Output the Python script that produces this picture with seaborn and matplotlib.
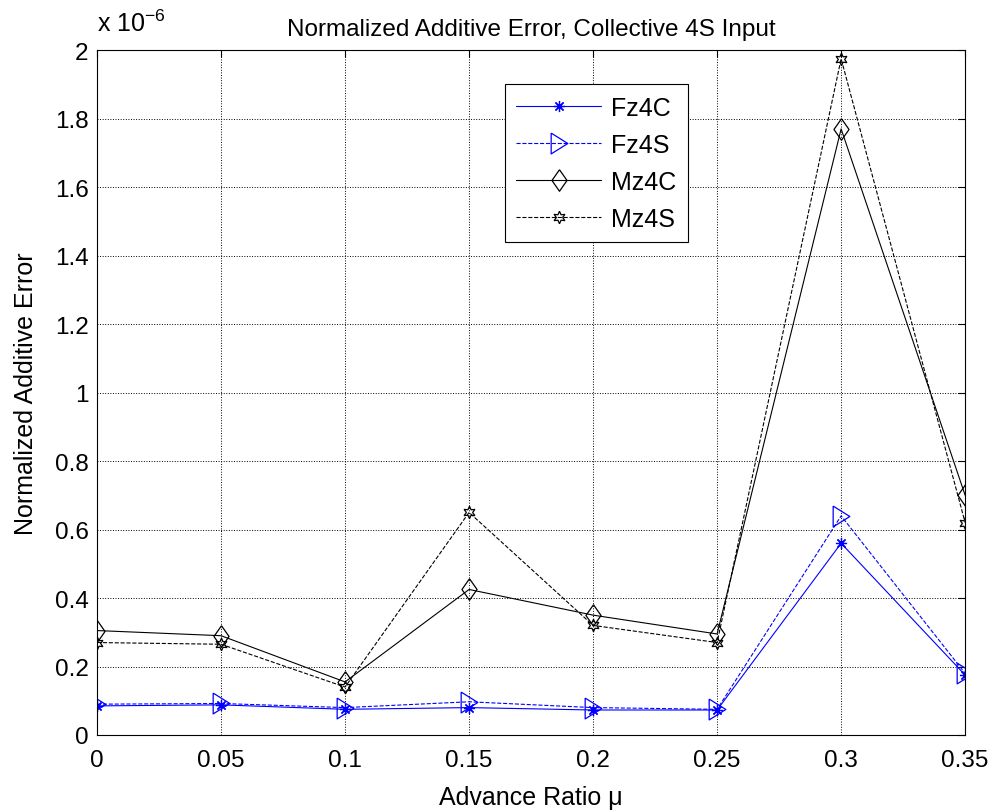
import pandas as pd
import seaborn as sns
import matplotlib.pyplot as plt
from matplotlib.ticker import FuncFormatter

# values, in units of 1e-6
mu = [0, 0.05, 0.1, 0.15, 0.2, 0.25, 0.3, 0.35]
fz4c = [0.085, 0.088, 0.075, 0.080, 0.073, 0.073, 0.56, 0.175]
fz4s = [0.090, 0.092, 0.080, 0.097, 0.080, 0.075, 0.64, 0.180]
mz4c = [0.305, 0.290, 0.155, 0.425, 0.350, 0.295, 1.77, 0.700]
mz4s = [0.270, 0.265, 0.140, 0.650, 0.320, 0.270, 1.975, 0.620]

x_ticks = [0, 0.05, 0.1, 0.15, 0.2, 0.25, 0.3, 0.35]
y_ticks = [0, 0.2, 0.4, 0.6, 0.8, 1.0, 1.2, 1.4, 1.6, 1.8, 2.0]

sns.set_theme(style="white")
plt.rcParams['font.family'] = ['Liberation Sans', 'DejaVu Sans']
plt.rcParams['font.size'] = 17.5
plt.rcParams['xtick.direction'] = 'in'
plt.rcParams['ytick.direction'] = 'in'
plt.rcParams['text.color'] = 'black'
plt.rcParams['axes.labelcolor'] = 'black'
plt.rcParams['xtick.color'] = 'black'
plt.rcParams['ytick.color'] = 'black'

df = pd.DataFrame({'mu': mu, 'Fz4C': fz4c, 'Fz4S': fz4s, 'Mz4C': mz4c, 'Mz4S': mz4s})

fig = plt.figure(figsize=(9.95, 8.12), dpi=100)
ax = fig.add_axes([0.0975, 0.0936, 0.8725, 0.8434])

# MATLAB-like marker shapes
diamond = [(0, 1), (0.7, 0), (0, -1), (-0.7, 0), (0, 1)]
tri_right = [(-0.8, 1), (0.8, 0), (-0.8, -1), (-0.8, 1)]

# series styles: (colour, linestyle, marker, size)
styles = {
    'Fz4C': ('#0000ff', '-', (8, 2, 0), 8),
    'Fz4S': ('#0000ff', '--', tri_right, 15),
    'Mz4C': ('black', '-', diamond, 15.5),
    'Mz4S': ('black', '--', (6, 1, 0), 9),
}

for name, (col, ls, mk, ms) in styles.items():
    sns.lineplot(data=df, x='mu', y=name, ax=ax, color=col, linestyle=ls,
                 linewidth=0.8, marker=mk, markersize=ms,
                 markerfacecolor='none', markeredgecolor=col,
                 markeredgewidth=0.9, label=name)

ax.set_xlim(0, 0.35)
ax.set_ylim(0, 2)
ax.set_xticks(x_ticks)
ax.set_yticks(y_ticks)
ax.xaxis.set_major_formatter(FuncFormatter(lambda v, p: f'{v:g}'))
ax.yaxis.set_major_formatter(FuncFormatter(lambda v, p: f'{v:g}'))
ax.tick_params(axis='x', pad=10)
ax.tick_params(axis='y', pad=6)
ax.tick_params(axis='both', which='both', top=True, right=True, length=5,
               width=0.8, color='black', labelcolor='black', labelsize=17.5)
ax.grid(True, color='black', linestyle=':', linewidth=0.7)
for sp in ax.spines.values():
    sp.set_color('black')
    sp.set_linewidth(0.8)

ax.set_title('Normalized Additive Error, Collective 4S Input', fontsize=17.5,
             pad=11, color='black')
ax.set_xlabel('Advance Ratio \u03bc', fontsize=18, labelpad=10)
ax.set_ylabel('Normalized Additive Error', fontsize=18, labelpad=12)
ax.text(0.0, 1.02, r'x 10$^{\mathregular{-6}}$', transform=ax.transAxes,
        fontsize=18, ha='left', va='bottom', color='black')

leg = ax.legend(loc='upper left', bbox_to_anchor=(0.47, 0.95), fontsize=18,
                handlelength=3.4, labelspacing=0.52, borderpad=0.45,
                handletextpad=0.4, borderaxespad=0,
                fancybox=False, framealpha=1, edgecolor='black')
leg.get_frame().set_linewidth(0.8)
for t in leg.get_texts():
    t.set_color('black')

plt.savefig('out.png', dpi=100)
